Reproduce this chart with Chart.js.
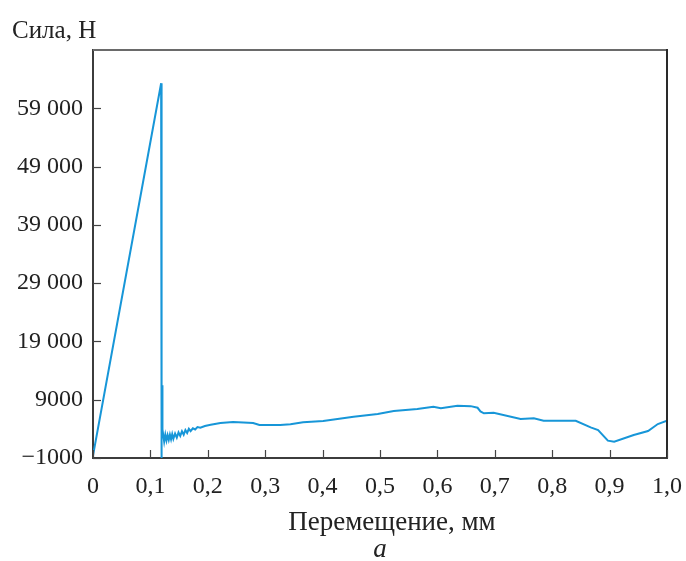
<!DOCTYPE html>
<html>
<head>
<meta charset="utf-8">
<script src="https://cdn.jsdelivr.net/npm/chart.js@4"></script>
<style>
html,body{margin:0;padding:0;background:#fff;}
#wrap{width:686px;height:561px;position:relative;}
</style>
</head>
<body>
<div id="wrap"><canvas id="c" width="686" height="561"></canvas></div>
<script>
const yAxisLabel = "Сила, Н";
const xAxisLabel = "Перемещение, мм";
const panelLabel = "а";

const displacement = [0, 0.1187, 0.1190, 0.1200, 0.1205, 0.1210,
  0.122, 0.124, 0.126, 0.128, 0.130, 0.132, 0.134, 0.136, 0.138, 0.140,
  0.143, 0.146, 0.149, 0.152, 0.155, 0.158, 0.161, 0.164, 0.167, 0.170,
  0.174, 0.178, 0.182, 0.187, 0.195, 0.205, 0.222, 0.244, 0.262, 0.279,
  0.290, 0.326, 0.344, 0.366, 0.401, 0.454, 0.496, 0.524, 0.565, 0.593,
  0.606, 0.635, 0.658, 0.670, 0.675, 0.681, 0.698, 0.745, 0.768, 0.785,
  0.815, 0.841, 0.867, 0.880, 0.897, 0.908, 0.942, 0.967, 0.984, 1.0];
const force = [-600, 63300, -1000, 2000, 11500, 2500,
  3200, 1800, 3000, 2000, 2900, 2100, 3000, 2200, 3100, 2300,
  3200, 2500, 3400, 2800, 3600, 3000, 3800, 3300, 4000, 3600,
  4100, 3900, 4300, 4200, 4500, 4700, 5000, 5170, 5100, 5000,
  4650, 4650, 4780, 5120, 5340, 6080, 6540, 7060, 7400, 7790,
  7520, 7960, 7900, 7620, 7000, 6660, 6770, 5690, 5810, 5390,
  5390, 5390, 4260, 3800, 1970, 1790, 2940, 3630, 4830, 5400];

const yTicks = [-1000, 9000, 19000, 29000, 39000, 49000, 59000];
const xTicks = [0, 0.1, 0.2, 0.3, 0.4, 0.5, 0.6, 0.7, 0.8, 0.9, 1.0];

const points = displacement.map((x, i) => ({x: x, y: force[i]}));

const FONT = "'Liberation Serif', 'Times New Roman', serif";

function fmtY(v) {
  const a = Math.abs(v);
  let s = String(a);
  if (a >= 10000) s = s.slice(0, s.length - 3) + ' ' + s.slice(-3);
  return (v < 0 ? '\u2212' : '') + s;
}
function fmtX(v) {
  const r = Math.round(v * 10) / 10;
  if (r === 0) return '0';
  return r.toFixed(1).replace('.', ',');
}

const framePlugin = {
  id: 'frame',
  afterDraw(chart) {
    const ctx = chart.ctx;
    const a = chart.chartArea;
    const xs = chart.scales.x, ys = chart.scales.y;
    ctx.save();
    ctx.lineWidth = 2;
    ctx.strokeStyle = '#6a6a6a';
    ctx.beginPath(); ctx.moveTo(a.left, a.top); ctx.lineTo(a.right, a.top); ctx.stroke();
    ctx.strokeStyle = '#2a2a2a';
    ctx.beginPath(); ctx.moveTo(a.right, a.top - 1); ctx.lineTo(a.right, a.bottom); ctx.stroke();
    ctx.lineWidth = 1.2;
    ctx.strokeStyle = '#444';
    xTicks.forEach(v => {
      const px = Math.round(xs.getPixelForValue(v)) + 0.5;
      ctx.beginPath(); ctx.moveTo(px, a.bottom); ctx.lineTo(px, a.bottom - 8); ctx.stroke();
    });
    yTicks.forEach(v => {
      const py = Math.round(ys.getPixelForValue(v)) + 0.5;
      ctx.beginPath(); ctx.moveTo(a.left, py); ctx.lineTo(a.left + 8, py); ctx.stroke();
    });
    ctx.fillStyle = '#222';
    ctx.font = "25px " + FONT;
    ctx.textAlign = 'left';
    ctx.textBaseline = 'alphabetic';
    ctx.fillText(yAxisLabel, 12, 38);
    ctx.textAlign = 'center';
    ctx.font = "27px " + FONT;
    ctx.fillText(xAxisLabel, 392, 530);
    ctx.font = "italic 27px " + FONT;
    ctx.fillText(panelLabel, 380, 557);
    ctx.restore();
  }
};

new Chart(document.getElementById('c'), {
  type: 'scatter',
  data: {
    datasets: [{
      data: points,
      showLine: true,
      borderColor: '#1796d8',
      borderWidth: 2,
      pointRadius: 0,
      tension: 0,
      fill: false
    }]
  },
  options: {
    responsive: false,
    animation: false,
    devicePixelRatio: 1,
    layout: {padding: {top: 50, right: 19, left: 0, bottom: 0}},
    plugins: {legend: {display: false}, tooltip: {enabled: false}, title: {display: false}},
    scales: {
      x: {
        type: 'linear', min: 0, max: 1,
        afterFit(s) { s.height = 103; s.paddingLeft = 0; s.paddingRight = 0; },
        afterBuildTicks(s) { s.ticks = xTicks.map(v => ({value: v})); },
        grid: {display: true, drawOnChartArea: false, drawTicks: false},
        border: {display: true, color: '#3c3c3c', width: 2},
        ticks: {
          padding: 14, color: '#222', maxRotation: 0, autoSkip: false,
          font: {family: FONT, size: 24},
          callback: v => fmtX(v)
        }
      },
      y: {
        type: 'linear', min: -1000, max: 69000,
        afterFit(s) { s.width = 93; s.paddingTop = 0; s.paddingBottom = 0; },
        afterBuildTicks(s) { s.ticks = yTicks.map(v => ({value: v})); },
        grid: {display: true, drawOnChartArea: false, drawTicks: false},
        border: {display: true, color: '#3c3c3c', width: 2},
        ticks: {
          padding: 10, color: '#222', autoSkip: false,
          font: {family: FONT, size: 24},
          callback: v => fmtY(v)
        }
      }
    }
  },
  plugins: [framePlugin]
});
</script>
</body>
</html>
